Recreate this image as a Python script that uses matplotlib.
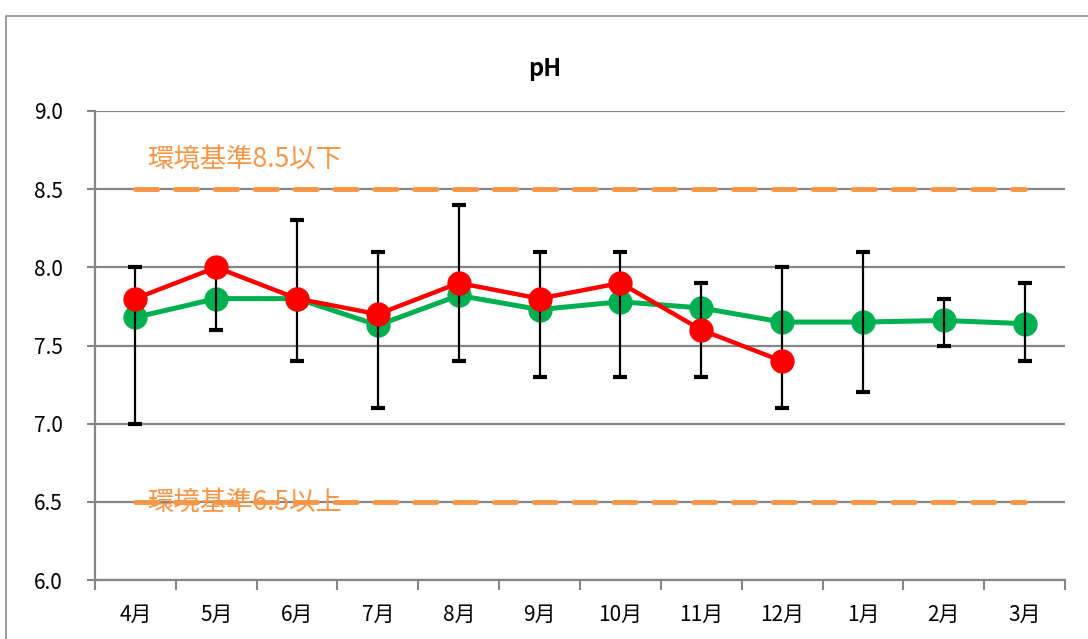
import matplotlib
matplotlib.use("Agg")
import matplotlib.pyplot as plt
from matplotlib.patches import Rectangle

plt.rcParams["font.family"] = ["Noto Sans CJK JP", "DejaVu Sans"]

months = ["4月", "5月", "6月", "7月", "8月", "9月", "10月", "11月", "12月", "1月", "2月", "3月"]
avg_ph = [7.68, 7.80, 7.80, 7.63, 7.82, 7.73, 7.78, 7.74, 7.65, 7.65, 7.66, 7.64]
max_ph = [8.0, 8.0, 8.3, 8.1, 8.4, 8.1, 8.1, 7.9, 8.0, 8.1, 7.8, 7.9]
min_ph = [7.0, 7.6, 7.4, 7.1, 7.4, 7.3, 7.3, 7.3, 7.1, 7.2, 7.5, 7.4]
this_year = [7.8, 8.0, 7.8, 7.7, 7.9, 7.8, 7.9, 7.6, 7.4]
std_upper = 8.5
std_lower = 6.5

x = list(range(len(months)))
err_low = [a - b for a, b in zip(avg_ph, min_ph)]
err_high = [b - a for a, b in zip(avg_ph, max_ph)]

fig = plt.figure(figsize=(10.88, 6.39), dpi=100)
ax = fig.add_axes([0.0873, 0.0923, 0.8916, 0.734])

# outer chart frame
fig.patches.append(Rectangle((6 / 1088, -0.1), 1.2, 1 - 16 / 639 + 0.1,
                             transform=fig.transFigure, fill=False,
                             edgecolor="#8c8c8c", linewidth=1.2))

for v in [6.0, 6.5, 7.0, 7.5, 8.0, 8.5, 9.0]:
    ax.axhline(v, color="#868686", linewidth=1.6, zorder=1)

# environmental standard lines
ax.plot([x[0], x[-1]], [std_upper, std_upper], color="#F79646", linewidth=3.5,
        dashes=(4.6, 3.6), solid_capstyle="round", dash_capstyle="round", zorder=2)
ax.plot([x[0], x[-1]], [std_lower, std_lower], color="#F79646", linewidth=3.5,
        dashes=(4.6, 3.6), solid_capstyle="round", dash_capstyle="round", zorder=2)
ax.text(0.15, 8.69, "環境基準8.5以下", color="#F79646", fontsize=19, va="center", zorder=3)
ax.text(0.15, 6.5, "環境基準6.5以上", color="#F79646", fontsize=19, va="center", zorder=3)

ax.plot(x, avg_ph, color="#00B050", linewidth=3.6, marker="o", markersize=16.5, zorder=4)
ax.errorbar(x, avg_ph, yerr=[err_low, err_high], fmt="none", ecolor="black",
            elinewidth=1.6, capsize=5, capthick=3, zorder=5)
ax.plot(x[:len(this_year)], this_year, color="#FF0000", linewidth=3.2, marker="o",
        markersize=16.5, zorder=6)

ax.set_xlim(-0.5, 11.5)
ax.set_ylim(6.0, 9.0)
ax.set_yticks([6.0, 6.5, 7.0, 7.5, 8.0, 8.5, 9.0])
ax.set_yticklabels(["6.0", "6.5", "7.0", "7.5", "8.0", "8.5", "9.0"])
ax.tick_params(axis="y", length=6, width=1.5, color="#868686", pad=17, labelsize=15)

ax.set_xticks(x)
ax.set_xticklabels(months)
ax.set_xticks([i - 0.5 for i in range(13)], minor=True)
ax.tick_params(axis="x", which="major", length=0, pad=17, labelsize=15)
ax.tick_params(axis="x", which="minor", length=7, width=1.5, color="#868686")

for s in ["top", "right"]:
    ax.spines[s].set_visible(False)
for s in ["left", "bottom"]:
    ax.spines[s].set_color("#868686")
    ax.spines[s].set_linewidth(1.6)

fig.text(545 / 1088, 1 - 69 / 639, "pH", ha="center", va="center",
         fontsize=17, fontweight="bold")

fig.savefig("out.png", dpi=100)
